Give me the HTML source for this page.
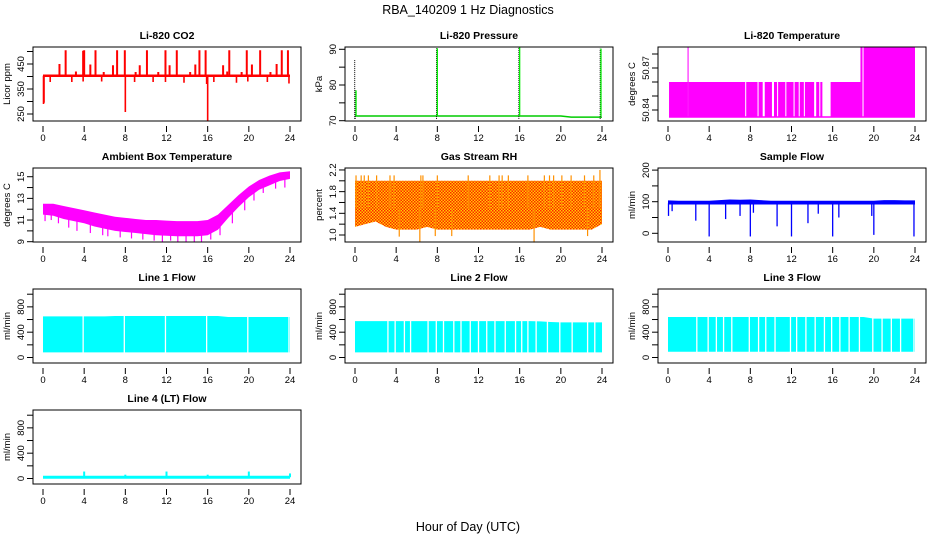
<!DOCTYPE html>
<html><head><meta charset="utf-8">
<style>
html,body{margin:0;padding:0;background:#fff;}
svg{display:block;font-family:"Liberation Sans",sans-serif;}
</style></head>
<body>
<svg id="chart" width="936" height="540" viewBox="0 0 936 540" xmlns="http://www.w3.org/2000/svg">
<defs>
<pattern id="rhpat" width="3" height="3" patternUnits="userSpaceOnUse">
<rect width="3" height="3" fill="#ffd000"/><rect width="1.5" height="1.5" fill="#ff2000"/><rect x="1.5" y="1.5" width="1.5" height="1.5" fill="#ff2000"/>
</pattern>
</defs>
<text x="468" y="14" text-anchor="middle" font-size="12.5">RBA_140209  1 Hz Diagnostics</text>
<text x="468" y="531" text-anchor="middle" font-size="12.5">Hour of Day (UTC)</text>
</svg>
<script>
// ---------- data ----------
const xTicks=[0,4,8,12,16,20,24];
const hours=[0,1,2,3,4,5,6,7,8,9,10,11,12,13,14,15,16,17,18,19,20,21,22,23,24];

const co2Base=[398,408];
const co2SpikeT=[2.2,3.9,4.0,5.1,7.2,7.95,10.1,11.9,13.0,15.2,15.8,18.1,19.8,21.1,23.2,23.8,1.6,4.6,6.8,9.4,12.3,14.8,17.5,20.3,22.7,3.2,5.9,9.0,11.2,14.3,17.9,19.3,22.1];
const co2SpikeV=[505,503,505,505,505,505,505,505,505,505,505,505,505,505,505,505,450,448,445,445,445,448,445,448,450,420,418,418,418,418,420,418,418];
const co2DipT=[0.05,0.1,0.7,2.8,3.9,5.7,8.0,8.9,10.7,11.9,13.7,15.9,16.0,16.6,18.8,19.9,21.8,23.9];
const co2DipV=[290,295,378,378,380,380,258,378,378,378,375,370,222,378,375,380,378,372];

const presBase=[71.3,71.3,71.3,71.3,71.3,71.3,71.3,71.3,71.3,71.3,71.3,71.3,71.3,71.3,71.3,71.3,71.3,71.3,71.3,71.3,71.3,71.0,71.0,71.0,71.0];
const presSpikeT=[0.05,0.1,8.0,16.0,23.9];
const presSpikeV=[87.0,78.5,90.3,90.5,90.2];

const tempSegStart=[0.1,1.9,2.0,7.6,8.8,9.4,10.3,10.7,11.5,12.3,12.8,13.3,14.4,14.8,15.8,18.7,19.0];
const tempSegEnd=[1.9,2.0,7.5,8.7,9.2,10.1,10.6,11.4,12.2,12.7,13.2,14.2,14.7,15.0,18.7,18.9,24.0];
const tempSegTop=[50.86,50.885,50.86,50.86,50.86,50.86,50.86,50.86,50.86,50.86,50.86,50.86,50.86,50.86,50.86,50.885,50.885];
const tempLow=50.835;

const ambUpper=[12.5,12.5,12.3,12.1,11.9,11.7,11.5,11.3,11.2,11.1,11.0,11.0,10.95,10.9,10.9,10.9,11.0,11.5,12.4,13.3,14.1,14.7,15.1,15.4,15.5];
const ambLower=[11.5,11.4,11.1,10.9,10.7,10.4,10.2,10.0,9.9,9.8,9.7,9.6,9.55,9.5,9.5,9.5,9.6,10.1,11.2,12.2,13.1,13.8,14.2,14.6,14.8];
const ambDipT=[0.2,0.8,1.5,2.5,3.3,4.6,5.8,6.3,7.5,8.6,9.7,10.8,11.6,12.4,13.1,13.9,14.7,15.4,16.3,17.2,18.4,19.6,20.5,21.4,22.6,23.5];
const ambDipV=[10.9,11.0,10.7,10.3,10.0,9.8,9.6,9.5,9.4,9.3,9.2,9.1,9.0,9.1,9.0,9.0,9.0,9.0,9.2,9.6,10.7,11.9,12.8,13.5,13.9,14.0];

const rhUpper=[2.0,2.0,2.0,2.0,2.0,2.0,2.0,2.0,2.0,2.0,2.0,2.0,2.0,2.0,2.0,2.0,2.0,2.0,2.0,2.0,2.0,2.0,2.0,2.0,2.0];
const rhLower=[1.15,1.2,1.25,1.15,1.1,1.1,1.1,1.15,1.1,1.1,1.1,1.1,1.1,1.1,1.1,1.1,1.1,1.1,1.15,1.1,1.1,1.1,1.1,1.1,1.2];
const rhSpikeT=[0.1,0.6,0.9,1.3,2.1,3.4,3.8,6.4,6.6,8.0,11.0,13.1,14.0,14.3,14.9,16.8,18.4,18.9,19.3,20.1,21.0,22.3,23.2,23.8,4.3,6.3,7.8,9.4,17.4,22.6];
const rhSpikeV=[2.1,2.1,2.1,2.1,2.1,2.1,2.1,2.1,2.1,2.1,2.1,2.1,2.1,2.1,2.1,2.1,2.1,2.1,2.1,2.1,2.1,2.1,2.1,2.2,0.97,0.88,0.98,0.98,0.86,0.98];

const sfUpper=[104,103,103,103,103,105,107,106,107,105,103,103,103,103,103,103,103,103,103,103,103,105,105,104,104];
const sfLower=[91,91,91,91,91,91,91,91,91,91,91,91,91,91,91,91,91,91,91,91,91,91,91,91,91];
const sfDipT=[0.05,0.4,2.7,4.0,5.6,7.0,8.0,8.3,10.6,12.0,13.6,14.6,16.0,16.6,19.8,20.0,23.9];
const sfDipV=[55,70,40,-10,45,55,-10,65,22,-10,32,62,-10,50,55,-5,-10];

const l1Top=[650,650,650,650,650,650,650,655,655,655,655,655,655,655,655,655,655,655,640,640,640,640,640,640,640];
const l1Bot=80;
const l1Gap=[3.9,7.9,11.9,15.9,19.9,23.9];
const l2Top=[575,575,575,575,575,575,575,575,575,575,575,575,575,575,575,575,575,575,570,560,555,555,555,555,555];
const l2Bot=80;
const l2Gap=[3.2,3.9,4.8,5.4,7.1,7.9,8.6,9.6,10.3,11.2,12.0,12.8,13.6,14.6,15.6,16.2,16.8,17.6,18.7,19.9,21.1,22.6,23.3];
const l3Top=[640,640,640,640,640,640,640,640,640,640,640,640,640,640,640,640,640,640,640,640,615,615,615,615,615];
const l3Bot=90;
const l3Gap=[2.8,3.9,4.7,5.4,6.2,7.9,8.8,9.5,10.4,11.9,12.5,13.4,14.3,15.2,15.9,16.7,17.6,18.6,19.9,20.8,21.7,22.6,23.9];

const l4Base=20;
const l4SpikeT=[4.0,8.0,12.0,16.0,20.0,24.0];
const l4SpikeV=[110,60,110,60,110,80];

// ---------- helpers ----------
const svg=document.getElementById('chart');
const NS='http://www.w3.org/2000/svg';
const COLX=[43,355,668];
const ROWB=[121,242,363,484];
function mk(tag,attrs,parent){const e=document.createElementNS(NS,tag);for(const k in attrs)e.setAttribute(k,attrs[k]);(parent||svg).appendChild(e);return e;}
function xs(col){const x0=COLX[col];return h=>x0+h*247/24;}
function ys(p0,v0,k){return v=>p0-(v-v0)*k;}
function interp(arr,t){const i=Math.min(23,Math.floor(t));const f=t-i;return arr[i]*(1-f)+arr[i+1]*f;}

function panel(col,row,title,ylab,ticks,labels,yf,name,fmt){
  const g=mk('g',{});
  
  
  const x0=COLX[col],bot=ROWB[row],top=bot-74,xf=xs(col);
  const t=mk('text',{x:x0+124,y:top-8,'text-anchor':'middle','font-size':'10.5','font-weight':'bold'},g);
  t.textContent=title;
  
  
  const yl=mk('text',{transform:`translate(${x0-33},${top+37}) rotate(-90)`,'text-anchor':'middle','font-size':'9.5'},g);
  yl.textContent=ylab;
  
  
  ticks.forEach(v=>{const y=yf(v);mk('line',{x1:x0-16,x2:x0-10,y1:y,y2:y,stroke:'#000','stroke-width':1},g);});
  labels.forEach(v=>{const y=yf(v);const tl=mk('text',{transform:`translate(${x0-19},${y}) rotate(-90)`,'text-anchor':'middle','font-size':'9.5'},g);tl.textContent=fmt?fmt(v):String(v);
    
    });
  xTicks.forEach(h=>{const x=xf(h);mk('line',{x1:x,x2:x,y1:bot+5,y2:bot+11,stroke:'#000','stroke-width':1},g);
    const tl=mk('text',{x:x,y:bot+20,'text-anchor':'middle','font-size':'9.5'},g);tl.textContent=String(h);
    
    });
  const pl=mk('g',{},g);
  
  
  return {g:pl,xf,yf,top,bot,x0,frame:()=>mk('rect',{x:x0-10,y:top,width:268,height:74,fill:'none',stroke:'#000','stroke-width':1},g)};
}
function band(p,up,lo,fill,name){
  let d='';hours.forEach((h,i)=>{d+=(i?'L':'M')+p.xf(h)+','+p.yf(up[i]);});
  for(let i=hours.length-1;i>=0;i--)d+='L'+p.xf(hours[i])+','+p.yf(lo[i]);
  const e=mk('path',{d:d+'Z',fill:fill,stroke:'none'},p.g);
  
  
}
function spikes(p,ts,vs,base,color,w,name){
  ts.forEach((t,i)=>{const b=(typeof base==='function')?base(t):base;
    const e=mk('line',{x1:p.xf(t),x2:p.xf(t),y1:p.yf(b),y2:p.yf(vs[i]),stroke:color,'stroke-width':w},p.g);
    
    });
}
function gaps(p,ts,name){
  ts.forEach(t=>{const e=mk('line',{x1:p.xf(t),x2:p.xf(t),y1:p.top+1,y2:p.bot-1,stroke:'#fff','stroke-width':1.3},p.g);
    
    });
}

// ---------- CO2 ----------
let p=panel(0,0,'Li-820 CO2','Licor ppm',[250,300,350,400,450,500],[250,350,450],ys(114,250,0.25),'co2');
mk('rect',{x:p.xf(0),y:p.yf(co2Base[1]),width:p.xf(24)-p.xf(0),height:p.yf(co2Base[0])-p.yf(co2Base[1]),fill:'#ff0000'},p.g);
spikes(p,co2SpikeT,co2SpikeV,403,'#ff0000',2,'co2-spike');
spikes(p,co2DipT,co2DipV,403,'#ff0000',1.6,'co2-dip');
p.frame();

// ---------- Pressure ----------
p=panel(1,0,'Li-820 Pressure','kPa',[70,75,80,85,90],[70,80,90],ys(120.7,70,3.57),'pressure');
{let d='';hours.forEach((h,i)=>{d+=(i?'L':'M')+p.xf(h)+','+p.yf(presBase[i]);});
 const e=mk('path',{d:d,fill:'none',stroke:'#00cc00','stroke-width':1.5},p.g);
 
 }
presSpikeT.forEach((t,i)=>{const x=p.xf(t);
  const e=mk('line',{x1:x-0.8,x2:x-0.8,y1:p.yf(70.5),y2:p.yf(presSpikeV[i]),stroke:'#000','stroke-width':1,'stroke-dasharray':'1,1'},p.g);
  
  });
spikes(p,presSpikeT.slice(1),presSpikeV.slice(1),71.3,'#00ee00',1.3,'pressure-spike');
p.frame();

// ---------- Li-820 Temperature ----------
p=panel(2,0,'Li-820 Temperature','degrees C',[50.84,50.85,50.86,50.87,50.88],[50.84,50.87],ys(110,50.84,1400),'li820-temp');
{const e=mk('line',{x1:p.xf(0.1),x2:p.xf(24),y1:p.yf(tempLow),y2:p.yf(tempLow),stroke:'#ff00ff','stroke-width':1.5},p.g);
 
 }
tempSegStart.forEach((s,i)=>{const x1=p.xf(s),x2=p.xf(tempSegEnd[i]);
  const e=mk('rect',{x:x1,y:p.yf(tempSegTop[i]),width:Math.max(1,x2-x1),height:p.yf(tempLow)-p.yf(tempSegTop[i]),fill:'#ff00ff'},p.g);
  
  });
p.frame();

// ---------- Ambient ----------
p=panel(0,1,'Ambient Box Temperature','degrees C',[9,10,11,12,13,14,15],[9,11,13,15],ys(241.7,9,10.83),'ambient-temp');
band(p,ambUpper,ambLower,'#ff00ff','ambient-band');
spikes(p,ambDipT,ambDipV,t=>interp(ambLower,t)+0.2,'#ff00ff',1.2,'ambient-dip');
p.frame();

// ---------- Gas RH ----------
p=panel(1,1,'Gas Stream RH','percent',[1.0,1.2,1.4,1.6,1.8,2.0,2.2],[1.0,1.4,1.8,2.2],ys(235,1,54.2),'gas-rh',v=>v.toFixed(1));
band(p,rhUpper,rhLower,'url(#rhpat)','rh-band');
spikes(p,rhSpikeT,rhSpikeV,1.5,'#ff9000',1.2,'rh-spike');
p.frame();

// ---------- Sample Flow ----------
p=panel(2,1,'Sample Flow','ml/min',[0,50,100,150,200],[0,100,200],ys(233.3,0,0.316),'sample-flow');
band(p,sfUpper,sfLower,'#0000ff','sample-flow-band');
spikes(p,sfDipT,sfDipV,95,'#0000ff',1.3,'sample-flow-dip');
p.frame();

// ---------- Line flows ----------
function lineFlow(col,row,title,top,botV,gapT,name){
  const pp=panel(col,row,title,'ml/min',[0,200,400,600,800,1000],[0,400,800],ys(357.5+121*(row-2),0,0.0633),name);
  band(pp,top,hours.map(()=>botV),'#00ffff',name+'-band');
  gaps(pp,gapT,name+'-gap');
  pp.frame();
  return pp;
}
lineFlow(0,2,'Line 1 Flow',l1Top,l1Bot,l1Gap,'line1-flow');
lineFlow(1,2,'Line 2 Flow',l2Top,l2Bot,l2Gap,'line2-flow');
lineFlow(2,2,'Line 3 Flow',l3Top,l3Bot,l3Gap,'line3-flow');

// ---------- Line 4 ----------
p=panel(0,3,'Line 4 (LT) Flow','ml/min',[0,200,400,600,800,1000],[0,400,800],ys(478.5,0,0.0633),'line4-flow');
{const e=mk('line',{x1:p.xf(0),x2:p.xf(24),y1:p.yf(l4Base),y2:p.yf(l4Base),stroke:'#00ffff','stroke-width':3},p.g);
 
 }
spikes(p,l4SpikeT,l4SpikeV,l4Base,'#00ffff',2,'line4-spike');
p.frame();
</script>
</body></html>
